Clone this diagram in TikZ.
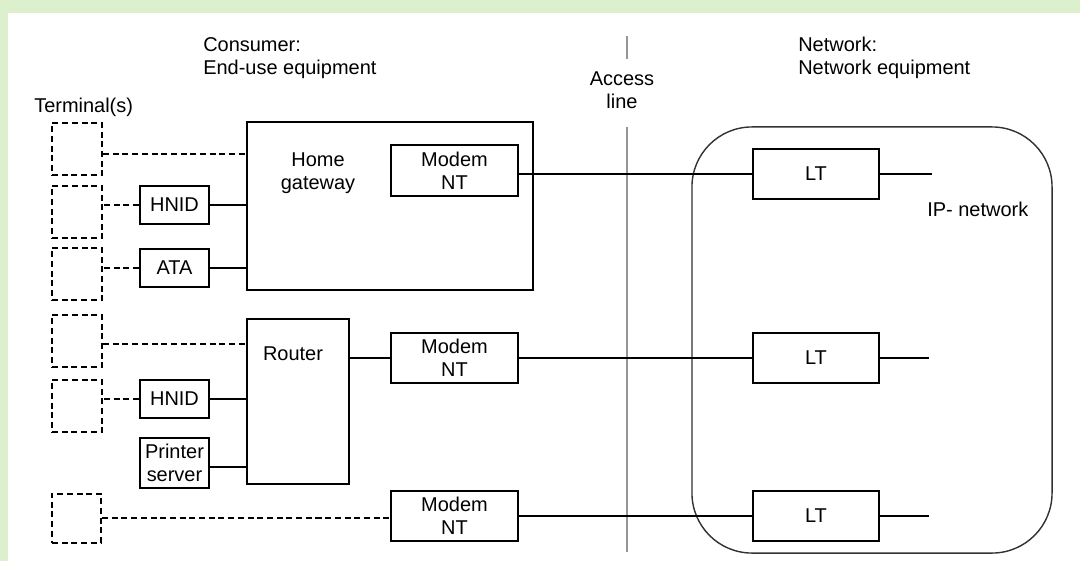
\documentclass[tikz,border=0pt]{standalone}
\usepackage{fontspec}
\setmainfont{Liberation Sans}
\usetikzlibrary{positioning}
\definecolor{pagegreen}{RGB}{221,240,205}
\definecolor{accessgray}{RGB}{150,150,150}
\definecolor{netgray}{RGB}{50,50,50}

\begin{document}
\begin{tikzpicture}[y=-0.025cm,x=0.025cm,
	every node/.style={font=\fontsize{14.2}{16.3}\selectfont},
	box/.style={draw, line width=1.42pt, inner sep=0pt, align=center},
	small/.style={box, minimum width=1.725cm, minimum height=0.95cm},
	unit/.style={box, minimum width=3.16cm, minimum height=1.265cm},
	term/.style={draw, line width=1.42pt, dash pattern=on 4.3pt off 2.6pt, minimum width=1.25cm, minimum height=1.3cm},
	wire/.style={line width=1.42pt},
	dwire/.style={line width=1.42pt, dash pattern=on 4.3pt off 2.6pt},
	lbl/.style={inner sep=0pt, align=left}]

	\fill[pagegreen] (0,0) rectangle (1080,561);
	\fill[white] (8,13) rectangle (1080,561);

	\node[lbl, anchor=west] (consumer) at (203,58) {Consumer:\\End-use equipment};
	\node[lbl, anchor=west] (network) at (798,58) {Network:\\Network equipment};
	\node[lbl, align=center] (access) at (622,90.5) {Access\\line};
	\node[lbl, anchor=west] (terminals) at (34,107) {Terminal(s)};

	\draw[accessgray, line width=1pt] (627,36) -- (627,59);
	\draw[accessgray, line width=1pt] (627,127) -- (627,552);

	\node[draw=netgray, line width=1pt, rounded corners=1.5cm, minimum width=9cm, minimum height=10.65cm] (net) at (872,340) {};
	\node[lbl, anchor=west] (ip) at (927,209) {IP- network};

	\node[term] (t1) at (77,149) {};
	\node[term] (t2) at (77,212) {};
	\node[term] (t3) at (77,274) {};
	\node[term] (t4) at (77,341) {};
	\node[term] (t5) at (77,406) {};
	\node[term, minimum width=1.225cm, minimum height=1.225cm] (t6) at (76.5,518) {};

	\node[box, minimum width=7.15cm, minimum height=4.2cm] (gw) at (390,206) {};
	\node[lbl, align=center] (gwlbl) at (318,173) {Home\\gateway};
	\node[unit] (modemA) at (454.5,170.5) {Modem\\NT};
	\node[small] (hnidA) at (174.5,205) {HNID};
	\node[small] (ata) at (174.5,268) {ATA};

	\node[box, minimum width=2.55cm, minimum height=4.125cm] (router) at (298,401.5) {};
	\node[lbl] (routerlbl) at (293,353.5) {Router};
	\node[unit] (modemB) at (454.5,358) {Modem\\NT};
	\node[small] (hnidB) at (174.5,399) {HNID};
	\node[small, minimum height=1.25cm] (printer) at (174.5,463) {Printer\\server};

	\node[unit] (modemC) at (454.5,516) {Modem\\NT};

	\node[unit] (ltA) at (816,174) {LT};
	\node[unit] (ltB) at (816,358) {LT};
	\node[unit] (ltC) at (816,516) {LT};
	\coordinate (ipA) at (932,0);
	\coordinate (ipB) at (929,0);

	\draw[dwire] ([yshift=-0.125cm]t1.east) -- ([yshift=-0.125cm]t1.east -| gw.west);
	\draw[dwire] (hnidA.west) -- (hnidA.west -| t2.east);
	\draw[dwire] (ata.west) -- (ata.west -| t3.east);
	\draw[dwire] ([yshift=-0.075cm]t4.east) -- ([yshift=-0.075cm]t4.east -| router.west);
	\draw[dwire] (hnidB.west) -- (hnidB.west -| t5.east);
	\draw[dwire] (t6.east) -- (t6.east -| modemC.west);

	\draw[wire] (hnidA.east) -- (hnidA.east -| gw.west);
	\draw[wire] (ata.east) -- (ata.east -| gw.west);
	\draw[wire] (hnidB.east) -- (hnidB.east -| router.west);
	\draw[wire] ([yshift=-0.1cm]printer.east) -- ([yshift=-0.1cm]printer.east -| router.west);
	\draw[wire] (modemB.west) -- (modemB.west -| router.east);

	\draw[wire] (ltA.west) -- (ltA.west -| modemA.east);
	\draw[wire] (modemB.east) -- (ltB.west);
	\draw[wire] (modemC.east) -- (ltC.west);
	\draw[wire] (ltA.east) -- (ltA.east -| ipA);
	\draw[wire] (ltB.east) -- (ltB.east -| ipB);
	\draw[wire] (ltC.east) -- (ltC.east -| ipB);
\end{tikzpicture}
\end{document}
